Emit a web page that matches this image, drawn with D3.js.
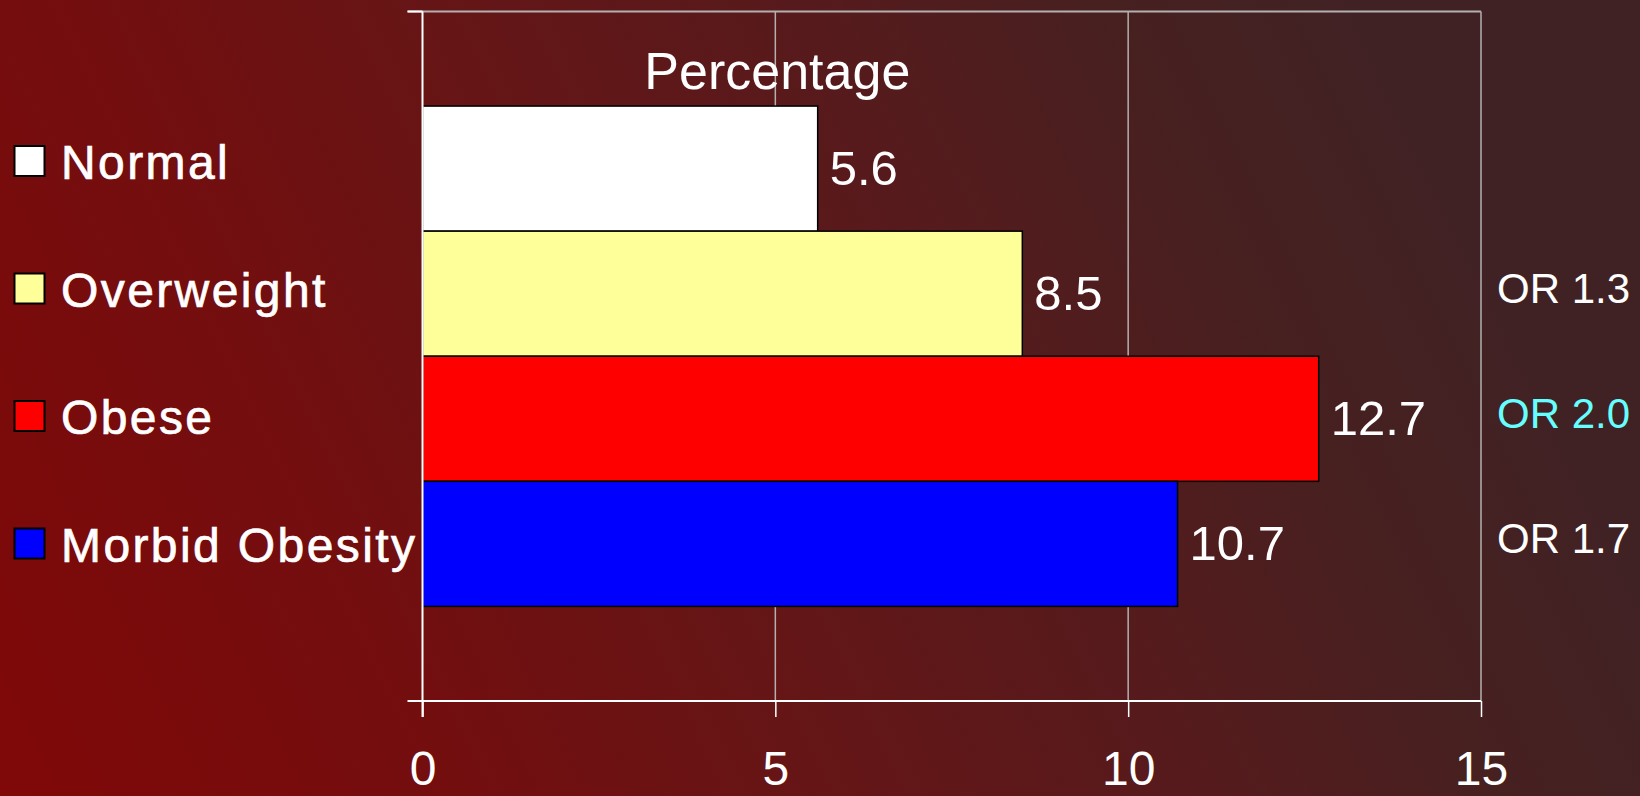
<!DOCTYPE html>
<html>
<head>
<meta charset="utf-8">
<script src="https://cdn.jsdelivr.net/npm/d3@7"></script>
<style>
  html, body { margin: 0; padding: 0; background: #412224; }
  svg { display: block; font-family: "Liberation Sans", Arial, Helvetica, sans-serif; }
</style>
</head>
<body>
<svg id="chart" width="1640" height="796"></svg>
<script>
// BMI groups and their percentages
const categories = ["Normal", "Overweight", "Obese", "Morbid Obesity"];
const values = [5.6, 8.5, 12.7, 10.7];
// Odds ratios relative to the normal-weight group
const oddsRatios = ["", "OR 1.3", "OR 2.0", "OR 1.7"];
const xTicks = [0, 5, 10, 15];
const title = "Percentage";

const barColors = ["#ffffff", "#ffff99", "#ff0000", "#0000ff"];
const orColors = ["#ffffff", "#ffffff", "#66ffff", "#ffffff"];

const W = 1640, H = 796;
const plot = { left: 422.5, right: 1481, top: 11.5, bottom: 701 };

const svg = d3.select("#chart");

// background gradient, dark red at bottom-left fading to brown at top-right
const defs = svg.append("defs");
const grad = defs.append("linearGradient")
  .attr("id", "bg").attr("gradientUnits", "userSpaceOnUse")
  .attr("x1", 0).attr("y1", H).attr("x2", W).attr("y2", 0);
[[0, "#800808"], [0.23, "#730e0f"], [0.4, "#661516"], [0.58, "#571a1c"],
 [0.74, "#472020"], [0.86, "#412224"], [1, "#412224"]]
  .forEach(([o, c]) => grad.append("stop").attr("offset", o).attr("stop-color", c));
svg.append("rect").attr("width", W).attr("height", H).attr("fill", "url(#bg)");

const x = d3.scaleLinear().domain([0, 15]).range([plot.left, plot.right]);

// one category group holding the four series bars
const yGroup = d3.scaleBand().domain([title]).range([plot.top, plot.bottom]).paddingOuter(0.189);
const y = d3.scaleBand().domain(categories)
  .range([yGroup(title), yGroup(title) + yGroup.bandwidth()]);

// gridlines
svg.append("g").selectAll("line").data(xTicks.filter(t => t > 0))
  .join("line")
  .attr("x1", d => x(d)).attr("x2", d => x(d))
  .attr("y1", plot.top).attr("y2", plot.bottom)
  .attr("stroke", "#b4b0b0").attr("stroke-width", 1.5);
// top border
svg.append("line")
  .attr("x1", plot.left - 15).attr("x2", plot.right)
  .attr("y1", plot.top).attr("y2", plot.top)
  .attr("stroke", "#b4b0b0").attr("stroke-width", 2);

// bars
svg.append("g").selectAll("rect").data(categories)
  .join("rect")
  .attr("x", x(0))
  .attr("y", d => y(d))
  .attr("width", (d, i) => x(values[i]) - x(0))
  .attr("height", y.bandwidth())
  .attr("fill", (d, i) => barColors[i])
  .attr("stroke", "#000").attr("stroke-width", 1.5);

// bottom value axis
const xAxis = d3.axisBottom(x).tickValues(xTicks).tickSize(16).tickPadding(34)
  .tickFormat(d3.format("d"));
const gx = svg.append("g").attr("transform", `translate(0,${plot.bottom})`).call(xAxis);
gx.select(".domain").remove();
gx.selectAll(".tick line").attr("stroke", "#ffffff").attr("stroke-width", 1.5);
gx.selectAll(".tick text").attr("fill", "#ffffff").attr("font-size", 48)
  .attr("font-family", "Liberation Sans, Arial, sans-serif");
svg.append("line")
  .attr("x1", plot.left - 15).attr("x2", plot.right)
  .attr("y1", plot.bottom).attr("y2", plot.bottom)
  .attr("stroke", "#ffffff").attr("stroke-width", 2);

// left category axis line with end ticks
svg.append("line")
  .attr("x1", plot.left).attr("x2", plot.left)
  .attr("y1", plot.top).attr("y2", plot.bottom + 16)
  .attr("stroke", "#ffffff").attr("stroke-width", 2);
svg.append("line")
  .attr("x1", plot.left - 15).attr("x2", plot.left)
  .attr("y1", plot.top).attr("y2", plot.top)
  .attr("stroke", "#ffffff").attr("stroke-width", 2);

// title
svg.append("text")
  .attr("x", x(5) + 2).attr("y", 89)
  .attr("text-anchor", "middle")
  .attr("fill", "#ffffff").attr("font-size", 52)
  .text(title);

// value labels
svg.append("g").selectAll("text").data(categories)
  .join("text")
  .attr("x", (d, i) => x(values[i]) + 12)
  .attr("y", d => y(d) + y.bandwidth() / 2 + 16)
  .attr("fill", "#ffffff").attr("font-size", 49)
  .text((d, i) => values[i].toFixed(1));

// odds ratio labels on the right
svg.append("g").selectAll("text").data(categories)
  .join("text")
  .attr("x", 1497)
  .attr("y", d => y(d) + y.bandwidth() / 2 + 9)
  .attr("fill", (d, i) => orColors[i]).attr("font-size", 42)
  .text((d, i) => oddsRatios[i]);

// legend
const legend = svg.append("g").selectAll("g").data(categories)
  .join("g")
  .attr("transform", (d, i) => `translate(0,${179 + i * 127.5})`);
legend.append("rect")
  .attr("x", 14.5).attr("y", -33).attr("width", 30).attr("height", 30)
  .attr("fill", (d, i) => barColors[i])
  .attr("stroke", "#000").attr("stroke-width", 2);
legend.append("text")
  .attr("x", 61).attr("y", 0)
  .attr("fill", "#ffffff").attr("font-size", 48)
  .attr("letter-spacing", 2.4)
  .attr("stroke", "#ffffff").attr("stroke-width", 0.7)
  .text(d => d);
</script>
</body>
</html>
